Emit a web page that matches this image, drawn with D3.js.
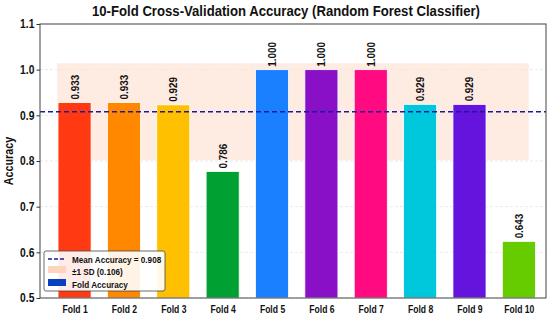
<!DOCTYPE html>
<html>
<head>
<meta charset="utf-8">
<script src="https://cdn.jsdelivr.net/npm/d3@7"></script>
<style>
  body { margin: 0; background: #fff; }
  svg { display: block; font-family: "Liberation Sans", Arial, sans-serif; }
</style>
</head>
<body>
<svg id="chart" width="550" height="319"></svg>
<script>
// data
const folds = ["Fold 1", "Fold 2", "Fold 3", "Fold 4", "Fold 5", "Fold 6", "Fold 7", "Fold 8", "Fold 9", "Fold 10"];
const barValues = [0.928, 0.928, 0.923, 0.777, 1.0, 1.0, 1.0, 0.924, 0.924, 0.624];
const barLabels = ["0.933", "0.933", "0.929", "0.786", "1.000", "1.000", "1.000", "0.929", "0.929", "0.643"];
const barColors = ["#ff3a12", "#ff8800", "#ffc000", "#00a032", "#1a80ff", "#8a10c8", "#ff0a80", "#00c8dc", "#6414dc", "#66cc00"];
const meanAcc = 0.908;
const sdAcc = 0.106;
const yTicks = [0.5, 0.6, 0.7, 0.8, 0.9, 1.0, 1.1];

const margin = { top: 24, right: 4, bottom: 21, left: 40 };
const width = 550, height = 319;
const narrow = 0.86; // squeeze text horizontally, reference font is condensed

const svg = d3.select("#chart");

const x = d3.scaleLinear().domain([-0.7, 9.55]).range([margin.left, width - margin.right]);
const y = d3.scaleLinear().domain([0.5, 1.1]).range([height - margin.bottom, margin.top]);
const barW = 0.67;

// grid
svg.append("g")
  .selectAll("line")
  .data(yTicks)
  .join("line")
  .attr("x1", margin.left).attr("x2", width - margin.right)
  .attr("y1", d => y(d)).attr("y2", d => y(d))
  .attr("stroke", "#e4e4e4")
  .attr("stroke-width", 0.8)
  .attr("stroke-dasharray", "3,2");

// ±1 SD band
svg.append("rect")
  .attr("x", x(-0.35))
  .attr("width", x(9.2) - x(-0.35))
  .attr("y", y(meanAcc + sdAcc))
  .attr("height", y(meanAcc - sdAcc) - y(meanAcc + sdAcc))
  .attr("fill", "#fde3d6")
  .attr("opacity", 0.7);

// bars
svg.append("g")
  .selectAll("rect")
  .data(barValues)
  .join("rect")
  .attr("x", (d, i) => x(i - barW / 2))
  .attr("width", x(barW) - x(0))
  .attr("y", d => y(d))
  .attr("height", d => y(0.5) - y(d))
  .attr("fill", (d, i) => barColors[i])
  .attr("stroke", "#ffffff")
  .attr("stroke-width", 0.8);

// bar value labels
svg.append("g")
  .selectAll("text")
  .data(barValues)
  .join("text")
  .attr("transform", (d, i) => `translate(${x(i) + 4},${y(d) - 3}) rotate(-90) scale(${narrow},1)`)
  .attr("font-size", 11.5)
  .attr("font-weight", "bold")
  .attr("fill", "#111")
  .text((d, i) => barLabels[i]);

// mean line
svg.append("line")
  .attr("x1", margin.left).attr("x2", width - margin.right)
  .attr("y1", y(meanAcc)).attr("y2", y(meanAcc))
  .attr("stroke", "#1a1aa0")
  .attr("stroke-width", 1.4)
  .attr("stroke-dasharray", "5,3");

// y axis
const yAxis = svg.append("g")
  .attr("transform", `translate(${margin.left},0)`)
  .call(d3.axisLeft(y).tickValues(yTicks).tickFormat(d3.format(".1f")).tickSize(3.5).tickPadding(3));
yAxis.select(".domain").remove();
yAxis.selectAll("text").attr("font-size", 12).attr("font-weight", "bold").attr("fill", "#111")
  .attr("font-family", null).attr("transform", `scale(${narrow},1)`);
yAxis.selectAll("line").attr("stroke", "#333");

// x axis
const xAxis = svg.append("g")
  .attr("transform", `translate(0,${height - margin.bottom})`)
  .call(d3.axisBottom(x).tickValues(d3.range(10)).tickFormat(i => folds[i]).tickSize(0).tickPadding(8));
xAxis.select(".domain").remove();
xAxis.selectAll("text").attr("font-size", 10).attr("font-weight", "bold").attr("fill", "#111")
  .attr("font-family", null).attr("transform", `scale(${narrow},1)`);

// frame
svg.append("rect")
  .attr("x", margin.left).attr("y", margin.top)
  .attr("width", width - margin.right - margin.left)
  .attr("height", height - margin.bottom - margin.top)
  .attr("fill", "none")
  .attr("stroke", "#444")
  .attr("stroke-width", 1);

// y label
svg.append("text")
  .attr("transform", `translate(13,${(margin.top + height - margin.bottom) / 2}) rotate(-90) scale(${narrow},1)`)
  .attr("text-anchor", "middle")
  .attr("font-size", 12.5)
  .attr("font-weight", "bold")
  .attr("fill", "#111")
  .text("Accuracy");

// title
svg.append("text")
  .attr("transform", `translate(286,16) scale(${narrow},1)`)
  .attr("text-anchor", "middle")
  .attr("font-size", 15.3)
  .attr("font-weight", "bold")
  .attr("fill", "#111")
  .text("10-Fold Cross-Validation Accuracy (Random Forest Classifier)");

// legend
const lg = svg.append("g").attr("transform", "translate(44,251)");
lg.append("rect")
  .attr("width", 121).attr("height", 40)
  .attr("rx", 2)
  .attr("fill", "#fff").attr("fill-opacity", 0.9)
  .attr("stroke", "#444").attr("stroke-width", 0.8);
lg.append("line")
  .attr("x1", 4).attr("x2", 22).attr("y1", 8).attr("y2", 8)
  .attr("stroke", "#1a1aa0").attr("stroke-width", 1.3).attr("stroke-dasharray", "4,2");
lg.append("rect").attr("x", 4).attr("y", 15).attr("width", 18).attr("height", 7).attr("fill", "#fdd5bd");
lg.append("rect").attr("x", 4).attr("y", 28).attr("width", 18).attr("height", 7).attr("fill", "#0a3fbf");
const legendTexts = ["Mean Accuracy = " + meanAcc.toFixed(3), "\u00b11 SD (" + sdAcc.toFixed(3) + ")", "Fold Accuracy"];
lg.selectAll("text.lt")
  .data(legendTexts)
  .join("text")
  .attr("class", "lt")
  .attr("transform", (d, i) => `translate(28,${11.5 + i * 12.5}) scale(${narrow},1)`)
  .attr("font-size", 9.5)
  .attr("font-weight", "bold")
  .attr("fill", "#111")
  .text(d => d);
</script>
</body>
</html>
